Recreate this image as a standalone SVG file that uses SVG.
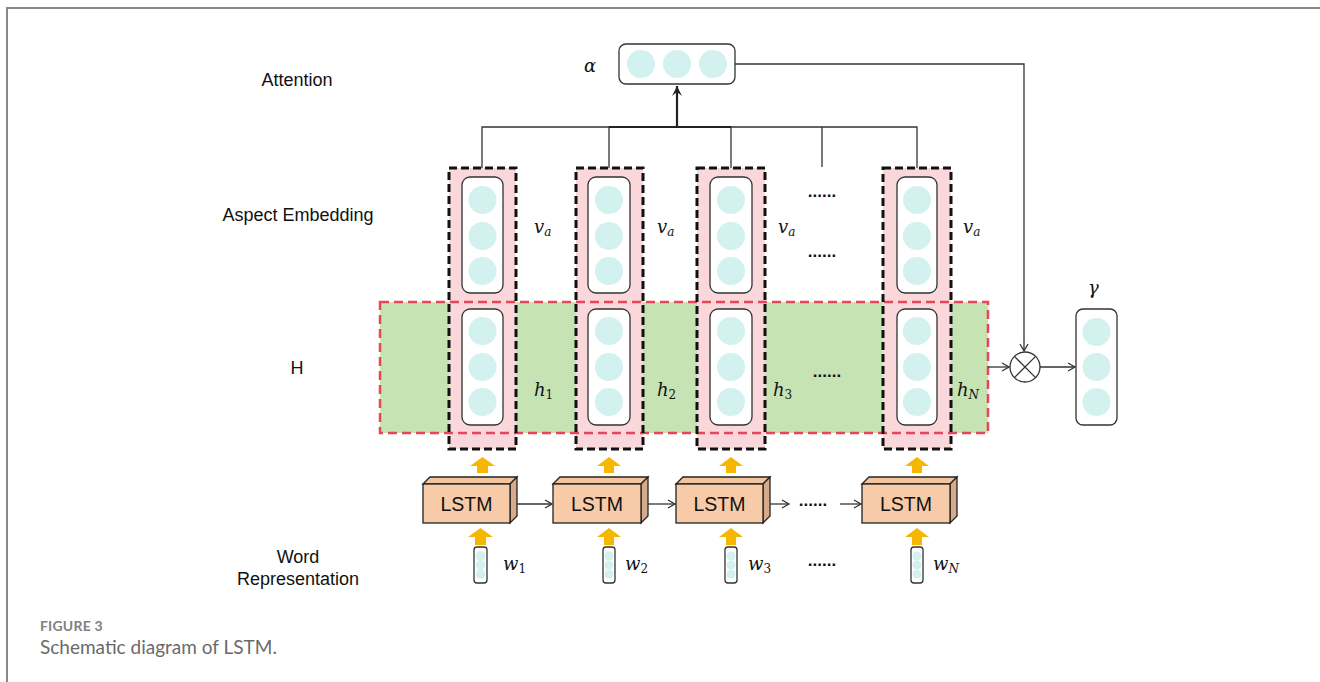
<svg xmlns="http://www.w3.org/2000/svg" width="1320" height="682" viewBox="0 0 1320 682">
<defs>
<style>
.lbl{font-family:"Liberation Sans",Arial,sans-serif;font-size:18px;fill:#111;text-anchor:middle}
.math{font-family:"DejaVu Serif","Liberation Serif",serif;font-style:italic;font-size:18px;fill:#111}
.sub{font-size:12px}
.up{font-style:normal}
.dots{font-family:"Liberation Sans",Arial,sans-serif;font-size:17px;font-weight:bold;fill:#111;text-anchor:middle}
.lstm{font-family:"Liberation Sans",Arial,sans-serif;font-size:19.5px;fill:#111;text-anchor:middle}
.cell{fill:#d3f1ee}
.vec{fill:#fff;stroke:#333;stroke-width:1.3}
.pink{fill:#f9d7da}
.bd{fill:none;stroke:#111;stroke-width:3;stroke-dasharray:8 4}
.conn{fill:none;stroke:#333;stroke-width:1.3}
.yel{fill:#f5b700}
.front{fill:#f7cba8;stroke:#222;stroke-width:1.3}
.side{fill:#d7aa8c;stroke:#222;stroke-width:1.3}
.top{fill:#f3c4a0;stroke:#222;stroke-width:1.3}
</style>
<marker id="arr" markerWidth="10" markerHeight="10" refX="8" refY="5" orient="auto" markerUnits="userSpaceOnUse">
<polyline points="1,1 8,5 1,9" fill="none" stroke="#333" stroke-width="1.3"/>
</marker>
<marker id="arrB" markerWidth="12" markerHeight="12" refX="10" refY="6" orient="auto" markerUnits="userSpaceOnUse">
<path d="M0,1 L10,6 L0,11 L4,6 Z" fill="#222"/>
</marker>
</defs>
<rect width="1320" height="682" fill="#fff"/>
<g id="frame">
<path d="M7,682 V8 H1320" fill="none" stroke="#888" stroke-width="2"/>
</g>
<g id="labels">
<text class="lbl" x="297" y="86">Attention</text>
<text class="lbl" x="298" y="221">Aspect Embedding</text>
<text class="lbl" x="297" y="374">H</text>
<text class="lbl" x="298" y="563">Word</text>
<text class="lbl" x="298" y="585">Representation</text>
</g>
<g id="H">
<rect x="380" y="302" width="608" height="131" fill="#c6e3b4"/>
</g>
<g id="columns">
<g id="col1">
<rect class="pink" x="449" y="168" width="67" height="281"/>
<rect class="vec" x="462" y="177" width="41" height="116" rx="8"/>
<circle class="cell" cx="482.5" cy="200" r="14"/><circle class="cell" cx="482.5" cy="236" r="14"/><circle class="cell" cx="482.5" cy="271" r="14"/>
<rect class="vec" x="462" y="309" width="41" height="116" rx="8"/>
<circle class="cell" cx="482.5" cy="331" r="14"/><circle class="cell" cx="482.5" cy="367" r="14"/><circle class="cell" cx="482.5" cy="402" r="14"/>
</g>
<g id="col2">
<rect class="pink" x="576" y="168" width="67" height="281"/>
<rect class="vec" x="588" y="177" width="42" height="116" rx="8"/>
<circle class="cell" cx="609" cy="200" r="14"/><circle class="cell" cx="609" cy="236" r="14"/><circle class="cell" cx="609" cy="271" r="14"/>
<rect class="vec" x="588" y="309" width="42" height="116" rx="8"/>
<circle class="cell" cx="609" cy="331" r="14"/><circle class="cell" cx="609" cy="367" r="14"/><circle class="cell" cx="609" cy="402" r="14"/>
</g>
<g id="col3">
<rect class="pink" x="697" y="168" width="68" height="281"/>
<rect class="vec" x="710" y="177" width="42" height="116" rx="8"/>
<circle class="cell" cx="731" cy="200" r="14"/><circle class="cell" cx="731" cy="236" r="14"/><circle class="cell" cx="731" cy="271" r="14"/>
<rect class="vec" x="710" y="309" width="42" height="116" rx="8"/>
<circle class="cell" cx="731" cy="331" r="14"/><circle class="cell" cx="731" cy="367" r="14"/><circle class="cell" cx="731" cy="402" r="14"/>
</g>
<g id="colN">
<rect class="pink" x="883" y="168" width="68" height="281"/>
<rect class="vec" x="897" y="177" width="40" height="116" rx="8"/>
<circle class="cell" cx="917" cy="200" r="14"/><circle class="cell" cx="917" cy="236" r="14"/><circle class="cell" cx="917" cy="271" r="14"/>
<rect class="vec" x="897" y="309" width="40" height="116" rx="8"/>
<circle class="cell" cx="917" cy="331" r="14"/><circle class="cell" cx="917" cy="367" r="14"/><circle class="cell" cx="917" cy="402" r="14"/>
</g>
</g>
<g id="H-border">
<rect x="380" y="302" width="608" height="131" fill="none" stroke="#e8445a" stroke-width="2.5" stroke-dasharray="9 5"/>
</g>
<g id="col-borders">
<rect class="bd" x="449" y="168" width="67" height="281"/>
<rect class="bd" x="576" y="168" width="67" height="281"/>
<rect class="bd" x="697" y="168" width="68" height="281"/>
<rect class="bd" x="883" y="168" width="68" height="281"/>
</g>
<g id="math-labels">
<text class="math" x="534" y="233">v<tspan class="sub" dy="3">a</tspan></text>
<text class="math" x="657" y="233">v<tspan class="sub" dy="3">a</tspan></text>
<text class="math" x="778" y="233">v<tspan class="sub" dy="3">a</tspan></text>
<text class="math" x="963" y="233">v<tspan class="sub" dy="3">a</tspan></text>
<text class="math" x="534" y="396">h<tspan class="sub up" dy="3">1</tspan></text>
<text class="math" x="657" y="396">h<tspan class="sub up" dy="3">2</tspan></text>
<text class="math" x="773" y="396">h<tspan class="sub up" dy="3">3</tspan></text>
<text class="math" x="957" y="396">h<tspan class="sub" dy="3">N</tspan></text>
<text class="math" x="584" y="72">α</text>
<text class="math" x="1088" y="294">γ</text>
<text class="math" x="503" y="570">w<tspan class="sub up" dy="3">1</tspan></text>
<text class="math" x="625" y="570">w<tspan class="sub up" dy="3">2</tspan></text>
<text class="math" x="748" y="570">w<tspan class="sub up" dy="3">3</tspan></text>
<text class="math" x="933" y="570">w<tspan class="sub" dy="3">N</tspan></text>
</g>
<g id="ellipses">
<text class="dots" x="822" y="197">......</text>
<text class="dots" x="822" y="257">......</text>
<text class="dots" x="827" y="377">......</text>
<text class="dots" x="813" y="506">......</text>
<text class="dots" x="822" y="566">......</text>
</g>
<g id="attention">
<rect class="vec" x="619" y="44" width="116" height="40" rx="7"/>
<circle class="cell" cx="641" cy="64" r="14"/><circle class="cell" cx="677" cy="64" r="14"/><circle class="cell" cx="713" cy="64" r="14"/>
</g>
<g id="gamma">
<rect class="vec" x="1076" y="309" width="41" height="116" rx="7"/>
<circle class="cell" cx="1096.5" cy="332" r="14"/><circle class="cell" cx="1096.5" cy="367" r="14"/><circle class="cell" cx="1096.5" cy="402" r="14"/>
</g>
<g id="otimes">
<circle cx="1025" cy="367" r="15" fill="#fff" stroke="#333" stroke-width="1.3"/>
<path d="M1014.4,356.4 L1035.6,377.6 M1035.6,356.4 L1014.4,377.6" stroke="#333" stroke-width="1.3"/>
</g>
<g id="lstm">
<g id="lstm1">
<polygon class="top" points="423,484 430,477 517,477 510,484"/>
<polygon class="side" points="510,484 517,477 517,516 510,523"/>
<rect class="front" x="423" y="484" width="87" height="39"/>
<text class="lstm" x="466.5" y="511">LSTM</text>
</g>
<g id="lstm2">
<polygon class="top" points="553,484 560,477 648,477 641,484"/>
<polygon class="side" points="641,484 648,477 648,516 641,523"/>
<rect class="front" x="553" y="484" width="88" height="39"/>
<text class="lstm" x="597" y="511">LSTM</text>
</g>
<g id="lstm3">
<polygon class="top" points="676,484 683,477 770,477 763,484"/>
<polygon class="side" points="763,484 770,477 770,516 763,523"/>
<rect class="front" x="676" y="484" width="87" height="39"/>
<text class="lstm" x="719.5" y="511">LSTM</text>
</g>
<g id="lstmN">
<polygon class="top" points="862,484 869,477 957,477 950,484"/>
<polygon class="side" points="950,484 957,477 957,516 950,523"/>
<rect class="front" x="862" y="484" width="88" height="39"/>
<text class="lstm" x="906" y="511">LSTM</text>
</g>
</g>
<g id="words">
<g id="w1"><rect class="vec" x="474" y="547" width="13" height="36" rx="3"/><circle class="cell" cx="480.5" cy="556" r="4.8"/><circle class="cell" cx="480.5" cy="565" r="4.8"/><circle class="cell" cx="480.5" cy="574" r="4.8"/></g>
<g id="w2"><rect class="vec" x="603" y="547" width="12" height="36" rx="3"/><circle class="cell" cx="609" cy="556" r="4.5"/><circle class="cell" cx="609" cy="565" r="4.5"/><circle class="cell" cx="609" cy="574" r="4.5"/></g>
<g id="w3"><rect class="vec" x="725" y="547" width="12" height="36" rx="3"/><circle class="cell" cx="731" cy="556" r="4.5"/><circle class="cell" cx="731" cy="565" r="4.5"/><circle class="cell" cx="731" cy="574" r="4.5"/></g>
<g id="wN"><rect class="vec" x="911" y="547" width="12" height="36" rx="3"/><circle class="cell" cx="917" cy="556" r="4.5"/><circle class="cell" cx="917" cy="565" r="4.5"/><circle class="cell" cx="917" cy="574" r="4.5"/></g>
</g>
<g id="connectors">
<path class="conn" d="M482,168 V127 H917 V168 M609,127 V168 M731,127 V168 M822,127 V167"/>
<path d="M609,127 H731" stroke="#222" stroke-width="2"/>
<line x1="677" y1="127" x2="677" y2="86" stroke="#222" stroke-width="2.2" marker-end="url(#arrB)"/>
<polyline class="conn" points="735,64 1024,64 1024,351" marker-end="url(#arr)"/>
<line class="conn" x1="988" y1="367" x2="1009" y2="367" marker-end="url(#arr)"/>
<line class="conn" x1="1040" y1="367" x2="1075" y2="367" marker-end="url(#arr)"/>
<line class="conn" x1="517" y1="504" x2="552" y2="504" marker-end="url(#arr)"/>
<line class="conn" x1="648" y1="504" x2="675" y2="504" marker-end="url(#arr)"/>
<line class="conn" x1="770" y1="504" x2="789" y2="504" marker-end="url(#arr)"/>
<line class="conn" x1="840" y1="504" x2="861" y2="504" marker-end="url(#arr)"/>
<g id="yellow-arrows">
<polygon class="yel" points="470,466 482.5,457 495,466 488,466 488,473 477,473 477,466"/>
<polygon class="yel" points="597,466 609,457 621,466 614,466 614,473 604,473 604,466"/>
<polygon class="yel" points="719,466 731,457 743,466 736,466 736,473 726,473 726,466"/>
<polygon class="yel" points="905,466 917,457 929,466 922,466 922,473 912,473 912,466"/>
<polygon class="yel" points="468,537 480.5,528 493,537 486,537 486,545 475,545 475,537"/>
<polygon class="yel" points="597,537 609,528 621,537 614,537 614,545 604,545 604,537"/>
<polygon class="yel" points="719,537 731,528 743,537 736,537 736,545 726,545 726,537"/>
<polygon class="yel" points="905,537 917,528 929,537 922,537 922,545 912,545 912,537"/>
</g>
</g>
<g id="caption">
<text x="40" y="631" font-family="Lato,'Open Sans',sans-serif" font-size="14" font-weight="bold" fill="#808080" letter-spacing="0.2">FIGURE 3</text>
<text x="40" y="654" font-family="Lato,'Open Sans',sans-serif" font-size="19" fill="#6a6a6a">Schematic diagram of LSTM.</text>
</g>
</svg>
